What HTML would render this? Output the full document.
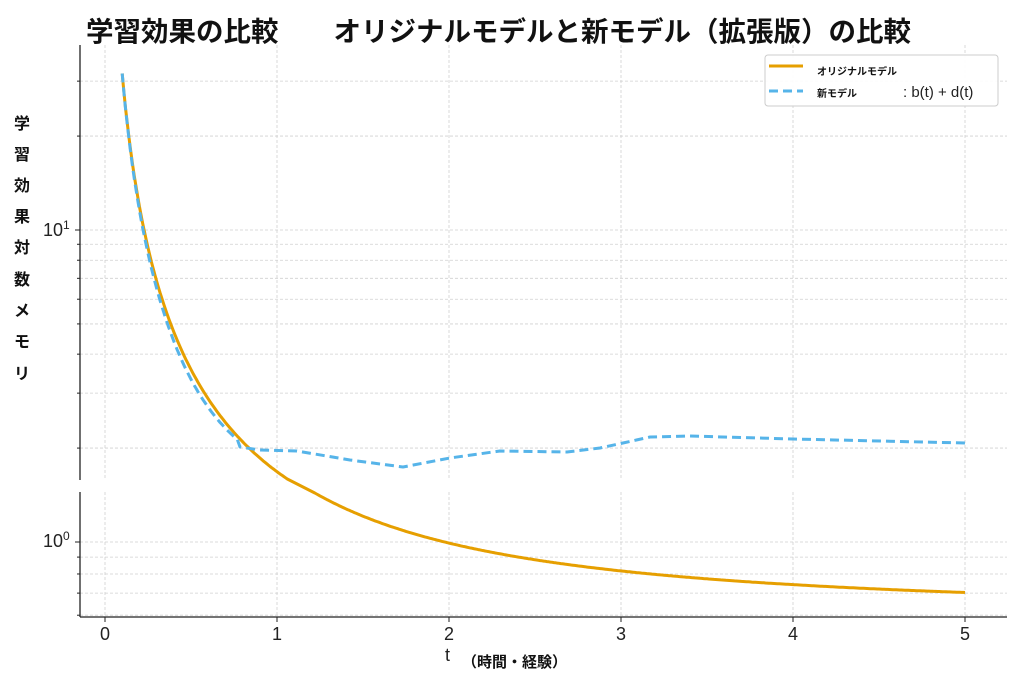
<!DOCTYPE html>
<html><head><meta charset="utf-8"><style>
body{margin:0;background:#fff;width:1024px;height:683px;overflow:hidden}
svg{display:block;font-family:"Liberation Sans","DejaVu Sans","Noto Sans CJK JP",sans-serif}
</style></head><body>
<svg id="s" width="1024" height="683" xmlns="http://www.w3.org/2000/svg">
<defs>
<clipPath id="cu"><rect x="80" y="45" width="927" height="435"/></clipPath>
</defs>
<g id="grid" stroke="#d0d0d0" stroke-width="0.8" stroke-dasharray="3,2"></g>
<g id="curves"></g>
<g stroke="#222" stroke-width="1.3" fill="none">
<line x1="80" y1="45" x2="80" y2="480"/>
<line x1="80" y1="492" x2="80" y2="617"/>
<line x1="80" y1="617" x2="1007" y2="617"/>
</g>
<g id="ticks" stroke="#222" stroke-width="1"></g>
<g font-size="18" fill="#222" text-anchor="middle">
<text x="105" y="640">0</text><text x="277" y="640">1</text><text x="449" y="640">2</text>
<text x="621" y="640">3</text><text x="793" y="640">4</text><text x="965" y="640">5</text>
</g>
<text x="43" y="236" font-size="18" fill="#222">10<tspan font-size="12" dy="-7">1</tspan></text>
<text x="43" y="547" font-size="18" fill="#222">10<tspan font-size="12" dy="-7">0</tspan></text>
<text x="86" y="41" font-size="27.5" font-weight="bold" fill="#111" font-family="'Noto Sans CJK JP',sans-serif">学習効果の比較　　オリジナルモデルと新モデル（拡張版）の比較</text>
<g font-size="16" font-weight="bold" fill="#111" text-anchor="middle" font-family="'Noto Sans CJK JP',sans-serif">
<text x="22" y="129">学</text><text x="22" y="160">習</text><text x="22" y="191">効</text><text x="22" y="222">果</text><text x="22" y="253">対</text><text x="22" y="285">数</text><text x="22" y="316">メ</text><text x="22" y="347">モ</text><text x="22" y="379">リ</text>
</g>
<text x="445" y="661" font-size="18" fill="#222">t</text>
<text x="462" y="667" font-size="15" font-weight="bold" fill="#111" font-family="'Noto Sans CJK JP',sans-serif">（時間・経験）</text>
<rect x="765" y="55" width="233" height="51" rx="3" fill="#fff" fill-opacity="0.9" stroke="#ccc"/>
<line x1="769" y1="66" x2="803" y2="66" stroke="#E69F00" stroke-width="3"/>
<line x1="769" y1="91" x2="803" y2="91" stroke="#56B4E9" stroke-width="3" stroke-dasharray="9,5"/>
<text x="817" y="75" font-size="10" font-weight="bold" fill="#111" font-family="'Noto Sans CJK JP',sans-serif">オリジナルモデル</text>
<text x="817" y="97" font-size="10" font-weight="bold" fill="#111" font-family="'Noto Sans CJK JP',sans-serif">新モデル</text>
<text x="903" y="97" font-size="15" fill="#222">: b(t) + d(t)</text>
</svg>
<script>
var NS="http://www.w3.org/2000/svg";
function X(t){return 105+172*t;}
function YU(v){return 230-312*Math.log10(v/10);}
function YL(v){return 542-330*Math.log10(v);}
function el(p,tag,a){var e=document.createElementNS(NS,tag);for(var k in a)e.setAttribute(k,a[k]);p.appendChild(e);return e;}
var g=document.getElementById('grid'),tk=document.getElementById('ticks');
[0,1,2,3,4,5].forEach(function(t){el(g,'line',{x1:X(t),y1:45,x2:X(t),y2:480});el(g,'line',{x1:X(t),y1:492,x2:X(t),y2:617});el(tk,'line',{x1:X(t),y1:617,x2:X(t),y2:622});});
[2,3,4,5,6,7,8,9,10,20,30].forEach(function(v){var y=YU(v);if(y>45&&y<480){el(g,'line',{x1:80,y1:y,x2:1007,y2:y});el(tk,'line',{x1:v==10?75:77,y1:y,x2:80,y2:y});}});
[0.6,0.7,0.8,0.9,1].forEach(function(v){var y=YL(v);if(y>492&&y<617){el(g,'line',{x1:80,y1:y,x2:1007,y2:y});el(tk,'line',{x1:v==1?75:77,y1:y,x2:80,y2:y});}});
function f(t){return 0.6+1.08*Math.pow(t,-1.46);}
var cv=document.getElementById('curves');
var d="";
for(var i=0;i<=490;i++){var t=0.1+i*0.01,v=f(t),y=YU(v);if(y>480){y=YL(v);if(y<492)continue;}d+=(d?"L":"M")+X(t).toFixed(1)+","+y.toFixed(1);}
el(cv,'path',{d:d,fill:'none',stroke:'#E69F00','stroke-width':3,'stroke-linejoin':'round'});
var gu=el(cv,'g',{'clip-path':'url(#cu)'});
var pts=[];
for(var t=0.1;t<=0.78;t+=0.01){var v=f(t)*(1-0.07*Math.sin(Math.PI*(t-0.1)/0.68*0.9));pts.push([X(t),YU(v)]);}
var bp=[[240,447],[260,450],[297,451],[350,460],[403,467],[450,458],[500,451],[567,452],[600,448],[623,443],[650,437],[690,436],[793,439],[965,443]];
pts=pts.concat(bp);
var d2="M"+pts[0][0]+","+pts[0][1];
for(var i=1;i<pts.length;i++)d2+="L"+pts[i][0].toFixed(1)+","+pts[i][1].toFixed(1);
el(gu,'path',{d:d2,fill:'none',stroke:'#56B4E9','stroke-width':3,'stroke-dasharray':'9,5','stroke-linejoin':'round'});
</script>
</body></html>
